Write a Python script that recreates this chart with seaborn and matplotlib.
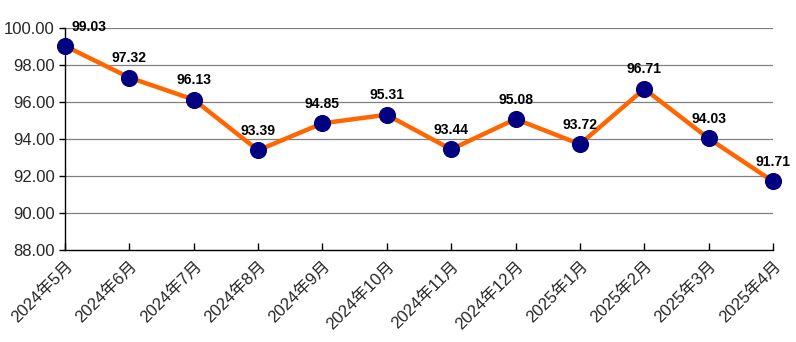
import matplotlib
matplotlib.use("Agg")
import matplotlib.pyplot as plt
import seaborn as sns
import pandas as pd

months = ["2024年5月", "2024年6月", "2024年7月", "2024年8月", "2024年9月", "2024年10月",
          "2024年11月", "2024年12月", "2025年1月", "2025年2月", "2025年3月", "2025年4月"]
values = [99.03, 97.32, 96.13, 93.39, 94.85, 95.31, 93.44, 95.08, 93.72, 96.71, 94.03, 91.71]
yticks = [88, 90, 92, 94, 96, 98, 100]

sns.set_theme(style="white")
plt.rcParams['font.family'] = ['Liberation Sans', 'Noto Sans CJK SC', 'DejaVu Sans']

df = pd.DataFrame({"month": months, "value": values, "x": range(len(months))})

fig = plt.figure(figsize=(7.96, 3.42), dpi=100)
ax = fig.add_axes([65/796, 1-250/342, (773-65)/796, (250-28)/342])

for y in yticks[1:]:
    ax.axhline(y, color="#808080", lw=0.9, zorder=0)

sns.lineplot(data=df, x="x", y="value", ax=ax, color="#FF6600", lw=3.2, zorder=2)
sns.scatterplot(data=df, x="x", y="value", ax=ax, color="#000080", s=130,
                edgecolor="#000080", zorder=3, clip_on=False)

for i, v in enumerate(values):
    if i == 0:
        ax.annotate(f"{v:.2f}", (i, v), xytext=(5, 14), textcoords="offset points",
                    ha="left", va="center", fontsize=10, fontweight="bold", color="black")
    else:
        ax.annotate(f"{v:.2f}", (i, v), xytext=(0, 14), textcoords="offset points",
                    ha="center", va="center", fontsize=10, fontweight="bold", color="black")

ax.set_xlim(0, len(months) - 1)
ax.set_ylim(88, 100)
ax.set_yticks(yticks)
ax.set_yticklabels([f"{y:.2f}" for y in yticks], fontsize=12)
ax.set_xticks(range(len(months)))
ax.set_xticklabels(months, rotation=45, ha="right", rotation_mode="anchor", fontsize=12)
ax.tick_params(axis="x", direction="in", length=5, width=1, color="black", pad=6, bottom=True)
ax.tick_params(axis="y", direction="out", length=4, width=1, color="black", left=True)
ax.set_xlabel("")
ax.set_ylabel("")
for s in ["top", "right"]:
    ax.spines[s].set_visible(False)
for s in ["left", "bottom"]:
    ax.spines[s].set_color("black")
    ax.spines[s].set_linewidth(1)

fig.savefig("out.png", dpi=100)
